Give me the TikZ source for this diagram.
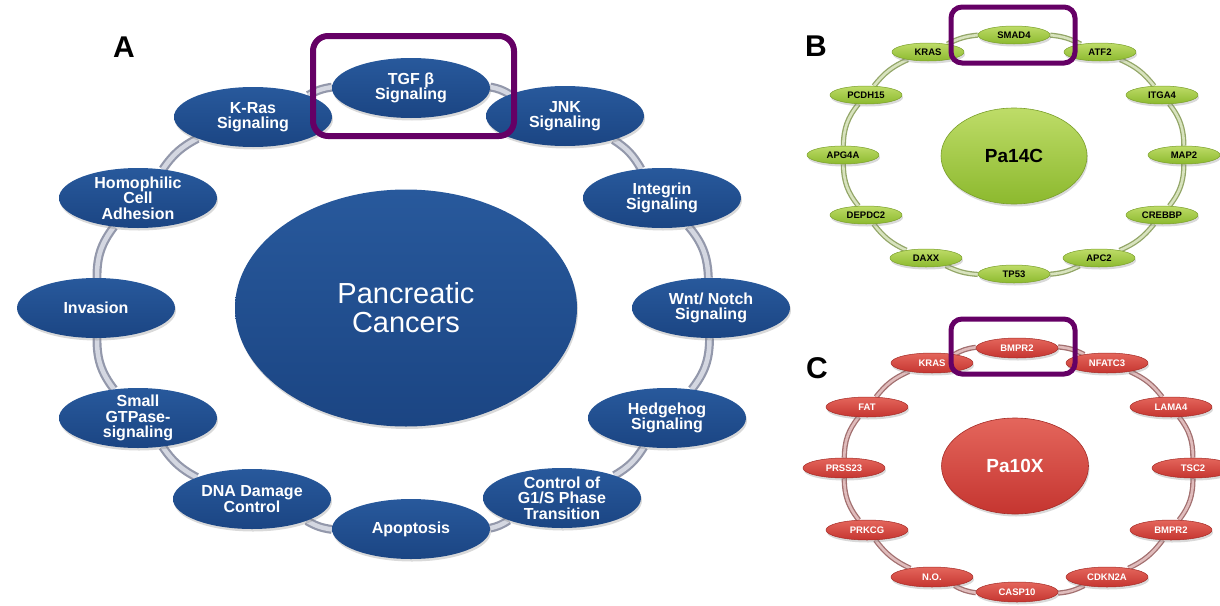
\documentclass[tikz,border=0pt]{standalone}
\usepackage{fontspec}
\setmainfont{Liberation Sans}
\usetikzlibrary{shapes.geometric,shadows}
\pgfdeclarelayer{ringlayer}
\pgfsetlayers{ringlayer,main}

\definecolor{blueTop}{HTML}{28599C}
\definecolor{blueBot}{HTML}{1B4583}
\definecolor{blueRingOut}{HTML}{9398AB}
\definecolor{blueRingIn}{HTML}{D4D7E1}
\definecolor{greenTop}{HTML}{BEDC68}
\definecolor{greenBot}{HTML}{8CB92E}
\definecolor{greenEdge}{HTML}{7A9F2A}
\definecolor{greenRingOut}{HTML}{93A668}
\definecolor{greenRingIn}{HTML}{D8E3BE}
\definecolor{redTop}{HTML}{E4665C}
\definecolor{redBot}{HTML}{C53530}
\definecolor{redEdge}{HTML}{A52B26}
\definecolor{redRingOut}{HTML}{A27070}
\definecolor{redRingIn}{HTML}{E0BCBC}
\definecolor{markPurple}{HTML}{650065}

\begin{document}
\begin{tikzpicture}[x=1pt,y=-1pt,
  softshadow/.style={drop shadow={opacity=0.3, shadow xshift=1pt, shadow yshift=-2.5pt}},
  hub/.style={ellipse, inner sep=0pt, align=center, softshadow},
  bluehub/.style={hub, top color=blueTop, bottom color=blueBot, text=white,
    minimum width=342pt, minimum height=237pt, font=\fontsize{29}{29}\selectfont},
  bluenode/.style={ellipse, inner sep=0pt, inner ysep=-6pt, align=center, softshadow,
    top color=blueTop, bottom color=blueBot, text=white,
    minimum width=158pt, minimum height=60pt, font=\fontsize{16}{15.5}\selectfont\bfseries},
  greenhub/.style={hub, top color=greenTop, bottom color=greenBot, draw=greenEdge, line width=0.6pt,
    text=black, minimum width=146pt, minimum height=96pt, font=\fontsize{19}{20}\selectfont\bfseries},
  greennode/.style={ellipse, inner sep=0pt, softshadow,
    top color=greenTop, bottom color=greenBot, draw=greenEdge, line width=0.5pt, text=black,
    minimum width=72pt, minimum height=18pt, font=\fontsize{9.5}{10}\selectfont\bfseries},
  redhub/.style={hub, top color=redTop, bottom color=redBot, draw=redEdge, line width=0.6pt,
    text=white, minimum width=147pt, minimum height=96pt, font=\fontsize{19}{20}\selectfont\bfseries},
  rednode/.style={ellipse, inner sep=0pt, softshadow,
    top color=redTop, bottom color=redBot, draw=redEdge, line width=0.5pt, text=white,
    minimum width=82pt, minimum height=20pt, font=\fontsize{9.5}{10}\selectfont\bfseries},
  bluering/.style={draw=blueRingOut, line width=2.2pt, double=blueRingIn, double distance=4.5pt},
  greenring/.style={draw=greenRingOut, line width=1.3pt, double=greenRingIn, double distance=2.6pt},
  redring/.style={draw=redRingOut, line width=1.3pt, double=redRingIn, double distance=2.6pt},
  panel/.style={font=\fontsize{30}{30}\selectfont\bfseries, text=black, inner sep=0pt},
  highlight/.style={draw=markPurple, rounded corners=15pt}
]
\useasboundingbox (0,0) rectangle (1220,605);

% ---------------- Panel A: pathways ----------------
\node[panel] (lblA) at (124,47) {A};
\node[bluehub] (pc) at (406,308) {Pancreatic\\Cancers};

\node[bluenode] (a0)  at (411,88)  {TGF β\\Signaling};
\node[bluenode] (a1)  at (565,116) {JNK\\Signaling};
\node[bluenode] (a2)  at (662,198) {Integrin\\Signaling};
\node[bluenode] (a3)  at (711,308) {Wnt/ Notch\\Signaling};
\node[bluenode] (a4)  at (667,418) {Hedgehog\\Signaling};
\node[bluenode] (a5)  at (562,498) {Control of\\G1/S Phase\\Transition};
\node[bluenode] (a6)  at (411,529) {Apoptosis};
\node[bluenode] (a7)  at (252,499) {DNA Damage\\Control};
\node[bluenode] (a8)  at (138,418) {Small\\GTPase-\\signaling};
\node[bluenode] (a9)  at (96,308)  {Invasion};
\node[bluenode] (a10) at (138,198) {Homophilic\\Cell\\Adhesion};
\node[bluenode] (a11) at (253,117) {K-Ras\\Signaling};

% ---------------- Panel B: Pa14C genes ----------------
\node[panel] (lblB) at (816,46) {B};
\node[greenhub] (hb) at (1014,156) {Pa14C};

\node[greennode] (b0)  at (1014,35)  {SMAD4};
\node[greennode] (b1)  at (1100,52)  {ATF2};
\node[greennode] (b2)  at (1162,95)  {ITGA4};
\node[greennode] (b3)  at (1184,155) {MAP2};
\node[greennode] (b4)  at (1162,215) {CREBBP};
\node[greennode] (b5)  at (1099,258) {APC2};
\node[greennode] (b6)  at (1014,274) {TP53};
\node[greennode] (b7)  at (926,258)  {DAXX};
\node[greennode] (b8)  at (866,215)  {DEPDC2};
\node[greennode] (b9)  at (843,155)  {APG4A};
\node[greennode] (b10) at (866,95)   {PCDH15};
\node[greennode] (b11) at (928,52)   {KRAS};

% ---------------- Panel C: Pa10X genes ----------------
\node[panel] (lblC) at (817,368) {C};
\node[redhub] (hc) at (1015,466) {Pa10X};

\node[rednode] (c0)  at (1017,348) {BMPR2};
\node[rednode] (c1)  at (1107,363) {NFATC3};
\node[rednode] (c2)  at (1171,407) {LAMA4};
\node[rednode] (c3)  at (1193,468) {TSC2};
\node[rednode] (c4)  at (1171,530) {BMPR2};
\node[rednode] (c5)  at (1107,577) {CDKN2A};
\node[rednode] (c6)  at (1017,592) {CASP10};
\node[rednode] (c7)  at (932,577)  {N.O.};
\node[rednode] (c8)  at (867,530)  {PRKCG};
\node[rednode] (c9)  at (844,468)  {PRSS23};
\node[rednode] (c10) at (867,407)  {FAT};
\node[rednode] (c11) at (932,363)  {KRAS};

% ---------------- rings behind the nodes ----------------
\begin{pgfonlayer}{ringlayer}
  \foreach \i/\j/\b in {0/1/11,1/2/14,2/3/19,3/4/19,4/5/14,5/6/11,
                        6/7/11,7/8/14,8/9/19,9/10/19,10/11/14,11/0/11} {
    \draw[bluering]  (a\i) to[bend left=\b] (a\j);
    \draw[greenring] (b\i) to[bend left=\b] (b\j);
    \draw[redring]   (c\i) to[bend left=\b] (c\j);
  }
\end{pgfonlayer}

% ---------------- highlight frames ----------------
\draw[highlight, line width=6pt] (313,36) rectangle (514,136);
\draw[highlight, line width=5pt, rounded corners=11pt] (951,7) rectangle (1075,63);
\draw[highlight, line width=5pt, rounded corners=11pt] (951,319) rectangle (1075,374);
\end{tikzpicture}
\end{document}
